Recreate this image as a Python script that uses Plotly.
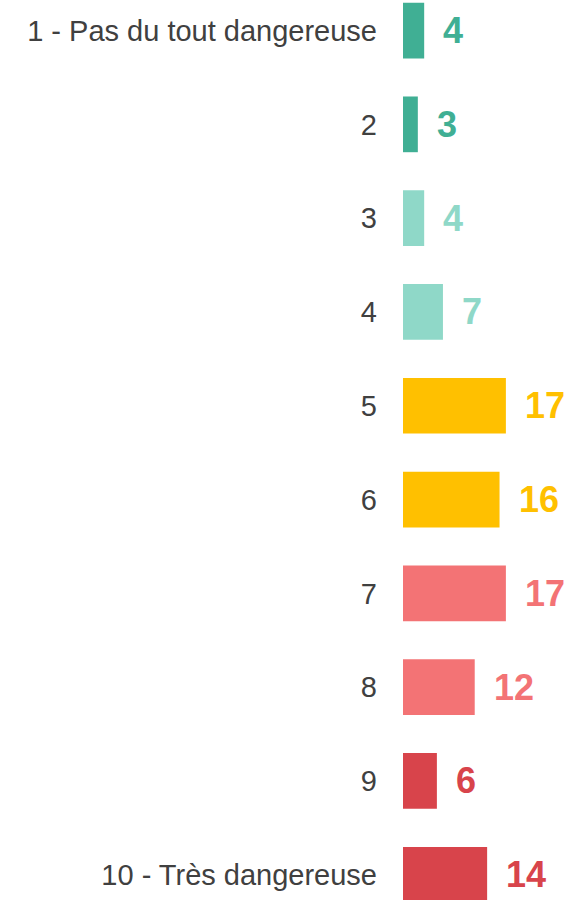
import plotly.graph_objects as go

categories = ["1 - Pas du tout dangereuse", "2", "3", "4", "5", "6", "7", "8", "9", "10 - Très dangereuse"]
values = [3.5, 2.45, 3.5, 6.6, 17.0, 15.95, 17.0, 11.85, 5.6, 13.9]
labels = ["4", "3", "4", "7", "17", "16", "17", "12", "6", "14"]
colors = ["#40AF94", "#40AF94", "#8FD8C8", "#8FD8C8", "#FFC000", "#FFC000",
          "#F37375", "#F37375", "#D8444B", "#D8444B"]

FONT = "Liberation Sans, Arial, sans-serif"

fig = go.Figure()
fig.add_trace(go.Bar(
    x=values, y=categories, orientation="h",
    marker=dict(color=colors, line=dict(width=0)),
    width=0.594, hoverinfo="skip",
))

for i, (v, t, col) in enumerate(zip(values, labels, colors)):
    fig.add_annotation(
        x=v, y=i, text="<b>%s</b>" % t, showarrow=False,
        xanchor="left", yanchor="middle", xshift=17,
        font=dict(family=FONT, size=36, color=col),
    )

fig.update_layout(
    width=564, height=900,
    margin=dict(l=403, r=0, t=0, b=0),
    paper_bgcolor="white", plot_bgcolor="white",
    showlegend=False,
    font=dict(family=FONT),
    xaxis=dict(range=[0, 26.6], visible=False, fixedrange=True),
    yaxis=dict(
        type="category", range=[9.269, -0.3257],
        showgrid=False, zeroline=False, showline=False, ticks="",
        ticklabelstandoff=25,
        tickfont=dict(family=FONT, size=29, color="#404040"),
        fixedrange=True,
    ),
)

fig.write_html(
    "out.html",
    config={"displayModeBar": False},
    post_script="document.body.style.margin='0';document.body.style.padding='0';document.body.style.overflow='hidden';",
)
